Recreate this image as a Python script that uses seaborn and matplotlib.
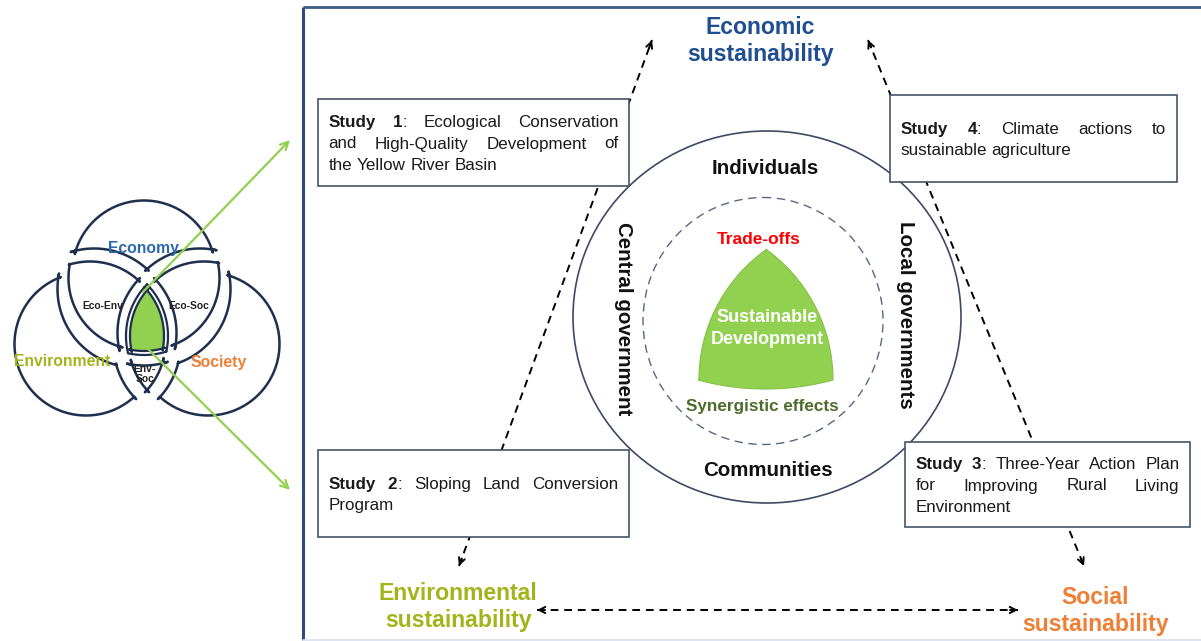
import numpy as np
import matplotlib
matplotlib.use("Agg")
import matplotlib.pyplot as plt
import seaborn as sns
from matplotlib.patches import Polygon, Ellipse, Rectangle

sns.set_theme(style="white")
plt.rcParams['font.family'] = ['Liberation Sans', 'DejaVu Sans']

# ---- content of the figure ----
venn_labels = ["Economy", "Environment", "Society"]
venn_pairs = ["Eco-Env", "Eco-Soc", "Env-\nSoc"]
pillars = ["Economic\nsustainability", "Environmental\nsustainability", "Social\nsustainability"]
actors = ["Individuals", "Central government", "Communities", "Local governments"]
core_label = "Sustainable\nDevelopment"
tradeoff_label = "Trade-offs"
synergy_label = "Synergistic effects"
study_heads = ["Study 1", "Study 2", "Study 3", "Study 4"]
study_bodies = [
    "Ecological Conservation\nand High-Quality Development of\nthe Yellow River Basin",
    "Sloping Land Conversion\nProgram",
    "Three-Year Action Plan\nfor Improving Rural Living\nEnvironment",
    "Climate actions to\nsustainable agriculture",
]

# colours
c_eco_title = '#1f4e91'
c_eco = '#2e69ad'
c_env = '#a2b41c'
c_soc = '#ee7f34'
c_green = '#92d050'
c_line = '#1f2f4f'
c_box = '#44546a'

W, H = 1201, 641
fig = plt.figure(figsize=(W / 100, H / 100), dpi=100)
ax = fig.add_axes([0, 0, 1, 1])
ax.set_xlim(0, W)
ax.set_ylim(H, 0)
ax.axis('off')


def px(p):
    return p * 0.72  # pixel height -> points at dpi 100


# ---------------- exploded Venn diagram (left) ----------------
R = 75.0
C = np.array([[144.0, 281.0], [94.0, 336.0], [200.0, 336.0]])  # Eco, Env, Soc


def isect(i, j):
    c1, c2 = C[i], C[j]
    d = np.linalg.norm(c2 - c1)
    m = (c1 + c2) / 2
    h = np.sqrt(R ** 2 - (d / 2) ** 2)
    n = np.array([-(c2 - c1)[1], (c2 - c1)[0]]) / d
    p, q = m + h * n, m - h * n
    k = 3 - i - j
    if np.linalg.norm(p - C[k]) < R:
        return p, q
    return q, p


EVi, EVo = isect(0, 1)
ESi, ESo = isect(0, 2)
VSi, VSo = isect(1, 2)


def arc(k, p1, p2, want):
    c = C[k]
    t1 = np.arctan2(*(p1 - c)[::-1])
    t2 = np.arctan2(*(p2 - c)[::-1])
    for t2c in (t1 + (t2 - t1) % (2 * np.pi), t1 - (t1 - t2) % (2 * np.pi)):
        tm = (t1 + t2c) / 2
        m = c + R * np.array([np.cos(tm), np.sin(tm)])
        if all((np.linalg.norm(m - C[j]) < R) == bool(want[j]) for j in range(3) if j != k):
            t = np.linspace(t1, t2c, 80)
            return c + R * np.c_[np.cos(t), np.sin(t)]
    raise ValueError("no arc")


def offset(P, g):
    # mitred inward offset (g > 0) / outward offset (g < 0) of a closed outline
    keep = np.r_[True, np.linalg.norm(np.diff(P, axis=0), axis=1) > 1e-6]
    P = P[keep]
    if np.linalg.norm(P[0] - P[-1]) < 1e-6:
        P = P[:-1]
    area = 0.5 * np.sum(P[:, 0] * np.roll(P[:, 1], -1) - np.roll(P[:, 0], -1) * P[:, 1])
    s = np.sign(area)
    t_in = P - np.roll(P, 1, axis=0)
    t_out = np.roll(P, -1, axis=0) - P
    t_in /= np.linalg.norm(t_in, axis=1)[:, None]
    t_out /= np.linalg.norm(t_out, axis=1)[:, None]
    n1 = np.c_[-t_in[:, 1], t_in[:, 0]] * s
    n2 = np.c_[-t_out[:, 1], t_out[:, 0]] * s
    m = n1 + n2
    m /= np.linalg.norm(m, axis=1)[:, None]
    cosv = np.clip(np.sum(m * n1, axis=1), 0.3, 1.0)
    return P + (g / cosv)[:, None] * m


regions = {
    'E': ((1, 0, 0), [(0, EVo, ESo), (2, ESo, VSi), (1, VSi, EVo)], (0, -9)),
    'V': ((0, 1, 0), [(1, EVo, VSo), (2, VSo, ESi), (0, ESi, EVo)], (-8, 8)),
    'S': ((0, 0, 1), [(2, ESo, VSo), (1, VSo, EVi), (0, EVi, ESo)], (8, 8)),
    'EV': ((1, 1, 0), [(0, EVo, ESi), (2, ESi, VSi), (1, VSi, EVo)], (-4, -3)),
    'ES': ((1, 0, 1), [(0, ESo, EVi), (1, EVi, VSi), (2, VSi, ESo)], (4, -3)),
    'VS': ((0, 1, 1), [(1, VSo, EVi), (0, EVi, ESi), (2, ESi, VSo)], (0, 6)),
    'EVS': ((1, 1, 1), [(0, EVi, ESi), (2, ESi, VSi), (1, VSi, EVi)], (0, 0)),
}

for key, (want, arcs, shift) in regions.items():
    P = np.vstack([arc(k, p1, p2, want) for k, p1, p2 in arcs])
    if key == 'EVS':
        ax.add_patch(Polygon(offset(P, 5.0), closed=True, fc=c_green, ec=c_line, lw=1.6,
                             joinstyle='round', zorder=2))
        ax.add_patch(Polygon(offset(P, 1.0), closed=True, fc='none', ec=c_line, lw=1.6,
                             joinstyle='round', zorder=2))
    else:
        Q = offset(P, 3.5) + np.array(shift)
        ax.add_patch(Polygon(Q, closed=True, fc='white', ec=c_line, lw=1.8, joinstyle='round', zorder=2))

ax.text(143, 248, venn_labels[0], color=c_eco, fontsize=px(15.7), weight='bold', ha='center', va='center', zorder=3)
ax.text(62, 362, venn_labels[1], color=c_env, fontsize=px(15.7), weight='bold', ha='center', va='center', zorder=3)
ax.text(219, 362, venn_labels[2], color=c_soc, fontsize=px(15.7), weight='bold', ha='center', va='center', zorder=3)
ax.text(103, 306, venn_pairs[0], color='#222222', fontsize=px(10.2), weight='bold', ha='center', va='center', zorder=3)
ax.text(189, 306, venn_pairs[1], color='#222222', fontsize=px(10.2), weight='bold', ha='center', va='center', zorder=3)
ax.text(145, 374, venn_pairs[2], color='#222222', fontsize=px(10.2), weight='bold', ha='center', va='center',
        linespacing=1.1, zorder=3)

# green pointers from the centre of the Venn
green_arrow = dict(arrowstyle='->', color=c_green, lw=1.6, shrinkA=0, shrinkB=0, mutation_scale=14)
ax.annotate('', xy=(290, 140), xytext=(143, 292), arrowprops=green_arrow, zorder=6)
ax.annotate('', xy=(290, 490), xytext=(143, 344), arrowprops=green_arrow, zorder=6)

# ---------------- frame ----------------
ax.plot([303, 303], [7, H], color='#2f4b7c', lw=2.2, solid_capstyle='butt', zorder=1)
ax.plot([303, W], [7, 7], color='#3f5a85', lw=2.0, solid_capstyle='butt', zorder=1)
ax.plot([303, W], [639.5, 639.5], color='#dfe2f0', lw=2.0, zorder=1)

# ---------------- central circles ----------------
ax.add_patch(Ellipse((767, 317), 388, 372, fc='white', ec='#3c4a66', lw=1.2, zorder=1))
ax.add_patch(Ellipse((763, 321), 240, 247, fc='none', ec='#5a6780', lw=1.0, ls=(0, (6, 4)), zorder=1))


def arc_pts(c, p1, p2, n=60):
    c, p1, p2 = map(np.asarray, (c, p1, p2))
    r = np.linalg.norm(p1 - c)
    t1 = np.arctan2(*(p1 - c)[::-1])
    t2 = np.arctan2(*(p2 - c)[::-1])
    dt = (t2 - t1 + np.pi) % (2 * np.pi) - np.pi
    t = np.linspace(t1, t1 + dt, n)
    return c + r * np.c_[np.cos(t), np.sin(t)]


top, bl, br = (767, 249), (698, 380), (833, 380)
shape = np.vstack([arc_pts((859, 380), top, bl),
                   arc_pts((765.5, 131.4), bl, br),
                   arc_pts((672, 380), br, top)])
ax.add_patch(Polygon(shape, closed=True, fc=c_green, ec='#86c046', lw=0.8, zorder=2))

ax.text(759, 240, tradeoff_label, color='#ff0000', fontsize=px(17.4), weight='bold', ha='center', va='center', zorder=3)
core = core_label.split('\n')
ax.text(767, 318, core[0], color='white', fontsize=px(18), weight='bold', ha='center', va='center', zorder=3)
ax.text(767, 340, core[1], color='white', fontsize=px(18), weight='bold', ha='center', va='center', zorder=3)
ax.text(762, 407, synergy_label, color='#4e6b2b', fontsize=px(17.1), weight='bold', ha='center', va='center', zorder=3)

ax.text(765, 169, actors[0], color='#111111', fontsize=px(20.5), weight='bold', ha='center', va='center', zorder=3)
ax.text(623, 319, actors[1], color='#111111', fontsize=px(20.5), weight='bold', ha='center', va='center',
        rotation=-90, zorder=3)
ax.text(768, 471, actors[2], color='#111111', fontsize=px(20.5), weight='bold', ha='center', va='center', zorder=3)
ax.text(906, 315, actors[3], color='#111111', fontsize=px(20.5), weight='bold', ha='center', va='center',
        rotation=-90, zorder=3)

# ---------------- pillar titles ----------------
pillar_pos = [(760, 27, 54), (458, 593, 621), (1095, 597, 625)]
pillar_col = [c_eco_title, c_env, c_soc]
for lab, (x, y1, y2), col in zip(pillars, pillar_pos, pillar_col):
    l1, l2 = lab.split('\n')
    ax.text(x, y1, l1, color=col, fontsize=px(23), weight='bold', ha='center', va='center', zorder=3)
    ax.text(x, y2, l2, color=col, fontsize=px(23), weight='bold', ha='center', va='center', zorder=3)


# ---------------- dashed arrows ----------------
def dashed(p0, p1, head0, head1):
    p0, p1 = np.asarray(p0, float), np.asarray(p1, float)
    ax.plot([p0[0], p1[0]], [p0[1], p1[1]], color='black', lw=1.4, ls=(0, (4, 3)), zorder=1)
    u = (p1 - p0) / np.linalg.norm(p1 - p0)
    head = dict(arrowstyle='->', lw=1.4, color='black', shrinkA=0, shrinkB=0, mutation_scale=11)
    if head1:
        ax.annotate('', xy=tuple(p1), xytext=tuple(p1 - 8 * u), arrowprops=head, zorder=2)
    if head0:
        ax.annotate('', xy=tuple(p0), xytext=tuple(p0 + 8 * u), arrowprops=head, zorder=2)


dashed((459, 566), (652, 40), True, True)
dashed((868, 40), (1084, 566), True, True)
dashed((537, 610), (1018, 610), True, True)

# ---------------- study boxes ----------------
boxes = [(318, 99, 629, 186), (318, 450, 629, 537), (905, 442, 1190, 527), (890, 95, 1177, 182)]
fs_box = 17.0
line_gap = 21.5
pad = 10.5
renderer = fig.canvas.get_renderer()

for head, body, (x0, y0, x1, y1) in zip(study_heads, study_bodies, boxes):
    ax.add_patch(Rectangle((x0, y0), x1 - x0, y1 - y0, fc='white', ec=c_box, lw=1.2, zorder=3))
    body_lines = body.split('\n')
    words_lines = []
    for i, bl_ in enumerate(body_lines):
        words = [[(w, 'normal')] for w in bl_.split()]
        if i == 0:
            hwords = [[(w, 'bold')] for w in head.split()]
            hwords[-1] = hwords[-1] + [(':', 'normal')]
            words = hwords + words
        words_lines.append(words)
    n = len(words_lines)
    yc0 = (y0 + y1) / 2 - line_gap * (n - 1) / 2
    for li, words in enumerate(words_lines):
        base = yc0 + li * line_gap + 6
        placed = []
        widths = []
        for word in words:
            segs = []
            wsum = 0
            for s, wt in word:
                t = ax.text(0, base, s, fontsize=px(fs_box), weight=wt, color='#1a1a1a',
                            ha='left', va='baseline', zorder=4)
                w = t.get_window_extent(renderer).width
                segs.append((t, w))
                wsum += w
            placed.append(segs)
            widths.append(wsum)
        avail = (x1 - pad) - (x0 + pad)
        if li < n - 1 and len(words) > 1:
            gap = (avail - sum(widths)) / (len(words) - 1)
        else:
            gap = 0.278 * fs_box
        x = x0 + pad
        for segs, w in zip(placed, widths):
            xx = x
            for t, sw in segs:
                t.set_x(xx)
                xx += sw
            x += w + gap

fig.savefig("out.png", dpi=100, facecolor='white')
